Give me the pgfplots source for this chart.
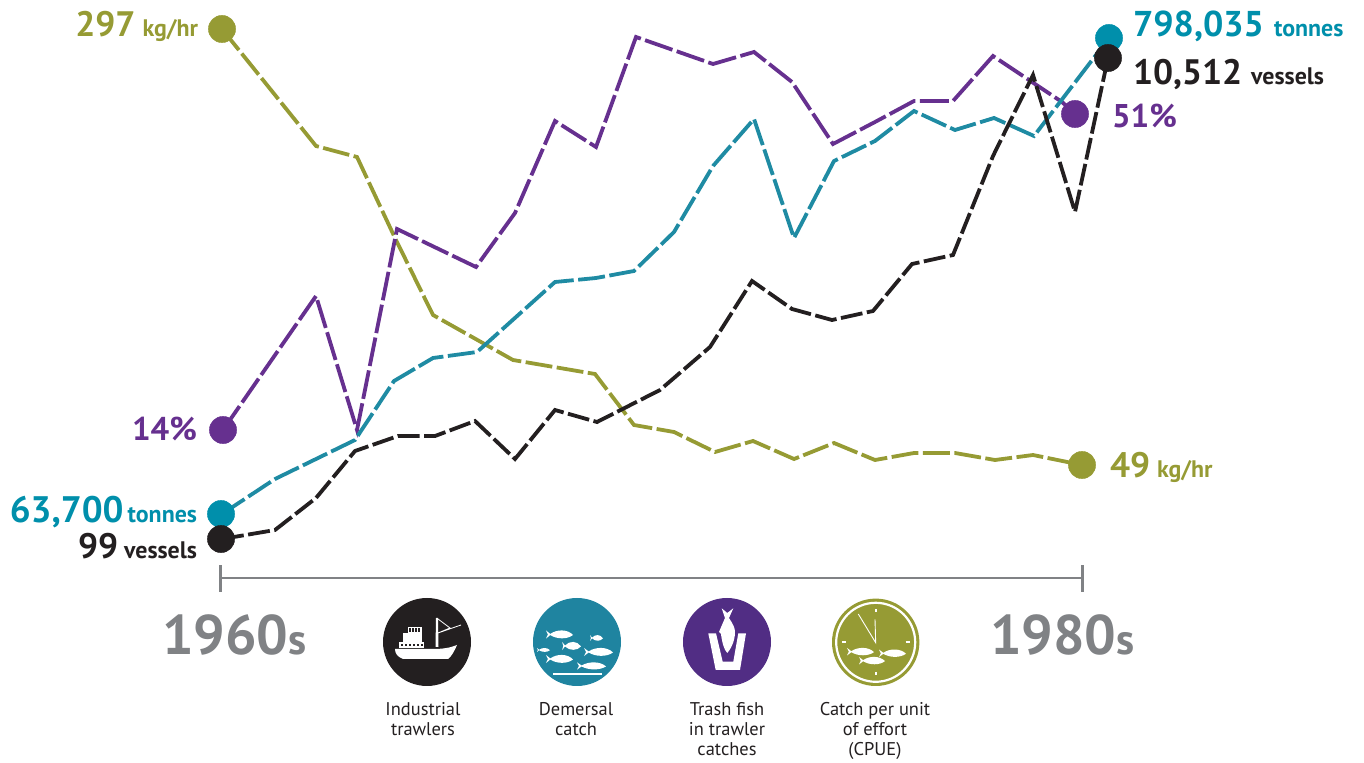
\documentclass[border=0pt]{standalone}
\usepackage{pgfplots}
\pgfplotsset{compat=1.18}
\usepackage{fontspec}
\setmainfont{PT Sans}
\definecolor{olv}{HTML}{969B34}
\definecolor{tealc}{HTML}{1F8BA3}
\definecolor{teald}{HTML}{008FAB}
\definecolor{purp}{HTML}{66308F}
\definecolor{purpi}{HTML}{512D84}
\definecolor{blk}{HTML}{231F20}
\definecolor{gry}{HTML}{808285}
\definecolor{teali}{HTML}{1F84A0}
\newcommand\sz[1]{\fontsize{#1}{#1}\selectfont}
\newcommand\gap[1]{\hspace{#1bp}}
\newcommand\fish[4]{\fill[white,shift={(#1,#2)},xscale=#3,yscale=#4]
 (1,0.1) .. controls (0.6,-1.2) and (-0.2,-1.2) .. (-0.68,-0.12) -- (-1,-0.9) -- (-0.86,0) -- (-1,0.9) -- (-0.68,0.12)
 .. controls (-0.2,1.1) and (0.6,1.1) .. (1,0.1) -- cycle;}
\begin{document}
\begin{tikzpicture}
\path[use as bounding box] (0,0) rectangle (1364bp,763bp);
\begin{axis}[at={(0,0)},anchor=south west,scale only axis,width=1364bp,height=763bp,xmin=0,xmax=1364,ymin=0,ymax=763,y dir=reverse,hide axis,clip=false]
\addplot[gry,line width=3pt] coordinates {(220,578) (1082,578)};
\addplot[gry,line width=3pt] coordinates {(220,565) (220,592)};
\addplot[gry,line width=3pt] coordinates {(1082,565) (1082,592)};
% CPUE
\addplot[olv,line width=3.8bp,dash pattern=on 27bp off 4.5bp] coordinates {(222,29)(316,146)(357,157)(395,238)(433,315)(513,360)(595,374)(634,425)(674,432)(715,452)(753,441)(794,459)(834,443)(875,460)(914,453)(955,453)(995,460)(1033,455)(1082,465)};
% Trash fish
\addplot[purp,line width=3.8bp,dash pattern=on 29bp off 4.5bp] coordinates {(223,430)(316,296)(357,430)(397,229)(476,267)(515,213)(555,121)(596,147)(636,37)(713,64)(754,52)(792,82)(833,144)(875,122)(914,101)(953,101)(993,56)(1062,102)(1075,114)};
% Demersal catch
\addplot[tealc,line width=3.8bp,dash pattern=on 27bp off 4.5bp] coordinates {(222,514)(275,479)(355,440)(394,381)(433,358)(477,352)(555,282)(596,278)(634,271)(674,232)(713,166)(754,119)(794,238)(834,161)(875,141)(914,111)(955,130)(994,118)(1034,136)(1109,38)};
% Trawlers
\addplot[blk,line width=3.8bp,dash pattern=on 22bp off 4.5bp] coordinates {(222,539)(275,530)(316,498)(355,451)(398,436)(435,436)(475,421)(515,459)(555,410)(597,422)(660,390)(710,347)(752,281)(792,309)(832,320)(873,311)(912,264)(953,255)(993,156)(1033,75)(1075,212)(1108,58)};
\addplot[only marks,mark=*,mark size=13.7pt,olv] coordinates {(222,29)(1082,465)};
\addplot[only marks,mark=*,mark size=13.7pt,purp] coordinates {(223,430)(1075,114)};
\addplot[only marks,mark=*,mark size=13.7pt,teald] coordinates {(221,514)(1109,38)};
\addplot[only marks,mark=*,mark size=13.7pt,blk] coordinates {(221,539)(1108,58)};
\end{axis}
\begin{scope}[shift={(0,763bp)},x=1bp,y=-1bp,every node/.style={inner sep=0pt,outer sep=0pt}]
% value labels
\node[anchor=base east,text=olv] at (198,37) {\bfseries\sz{35.5}297\gap{7}\sz{24}kg/hr};
\node[anchor=base east,text=purp] at (197,441) {\bfseries\sz{33}14\%};
\node[anchor=base east,text=teald] at (197,523) {\bfseries\sz{37}63,700\gap{4}\sz{24}tonnes};
\node[anchor=base east,text=blk] at (197,559) {\bfseries\sz{35.5}99\gap{6}\sz{24}vessels};
\node[anchor=base west,text=teald] at (1133,37) {\bfseries\sz{36}798,035\gap{10}\sz{24}tonnes};
\node[anchor=base west,text=blk] at (1133,85) {\bfseries\sz{35.5}10,512\gap{9}\sz{24}vessels};
\node[anchor=base west,text=purp] at (1112,128) {\bfseries\sz{33}51\%};
\node[anchor=base west,text=olv] at (1110,478) {\bfseries\sz{35.5}49\gap{7}\sz{24}kg/hr};
\node[anchor=base west,text=gry] at (162,655) {\bfseries\sz{56}1960\sz{43}s};
\node[anchor=base west,text=gry] at (990,655) {\bfseries\sz{56}1980\sz{43}s};
% captions
\foreach \x/\y/\t in {423/716/Industrial,423/736/trawlers,576/716/Demersal,576/736/catch,727/716/Trash fish,727/736/in trawler,727/756/catches,875/716/Catch per unit,875/736/of effort,875/756/(CPUE)}
  \node[anchor=base,text=blk] at (\x,\y) {\sz{18.5}\t};
% ship icon
\fill[blk] (427,642) circle [radius=44];
\fill[white] (395,649) -- (433,649) .. controls (442,649) and (450,648) .. (457,645) .. controls (454,652) and (451,657) .. (448,659) -- (403,659) .. controls (398,657) and (395,654) .. (395,649) -- cycle;
\fill[white] (399,642) rectangle (424,648);
\fill[white] (403,633) rectangle (422,642);
\fill[white] (408,627) rectangle (422,633);
\foreach \x in {402,406,410,414,418,422} \fill[blk] (\x-1,644) rectangle (\x+1,646);
\foreach \x in {410,413,416,419} \fill[blk] (\x-0.7,628.5) rectangle (\x+0.7,632.5);
\fill[white] (436,618) -- (438,618) -- (438.5,647) -- (435.5,647) -- cycle;
\draw[white,line width=0.8bp] (438,619) -- (450,628) -- (438,633) (438,633) -- (461,625);
% fish icon
\fill[teali] (577,642) circle [radius=44];
\fish{559.5}{634.5}{13.5}{4.5}
\fish{596.5}{638}{6.5}{3.2}
\fish{571.5}{646}{9.5}{4.5}
\fish{543.5}{650}{6.5}{2.2}
\fish{598.5}{652}{14.5}{4.5}
\fish{559.5}{659}{13.5}{4.5}
\fish{591.5}{666}{14.5}{4}
\fill[white] (553,673.3) rectangle (602,674.8);
% trash fish icon
\fill[purpi] (727,642) circle [radius=44];
\fill[white] (708.3,633.3) -- (715.7,670) -- (740,670) -- (746,633.3) -- (738.3,633.3) -- (733.3,661.7) -- (722.7,661.7) -- (716,633.3) -- cycle;
\fill[white] (721.7,608.3) -- (727.3,613) -- (733.3,608.3) -- (729,618) .. controls (733,624) and (735,628) .. (735,632) .. controls (735,642) and (730,650) .. (727.3,653) .. controls (724,650) and (722,642) .. (721,634) -- (719,632) -- (722,625) -- (725,618) -- cycle;
% clock icon
\fill[olv] (875.7,642.3) circle [radius=43.7];
\draw[white,line width=2.2bp] (875.7,642.3) circle [radius=39.5];
\draw[white,line width=1.6bp] (875.7,609.5) -- (875.7,612.5) (875.7,672) -- (875.7,675) (842,642.3) -- (846,642.3) (905.5,642.3) -- (909.5,642.3);
\draw[white,line width=0.9bp] (875,619.3) -- (875.7,642.7) -- (858.3,614);
\fish{860.5}{651.7}{13.5}{4.2}
\fish{892.5}{653.3}{13.5}{4.2}
\fish{872}{660.7}{13}{4.2}
\end{scope}
\end{tikzpicture}
\end{document}
